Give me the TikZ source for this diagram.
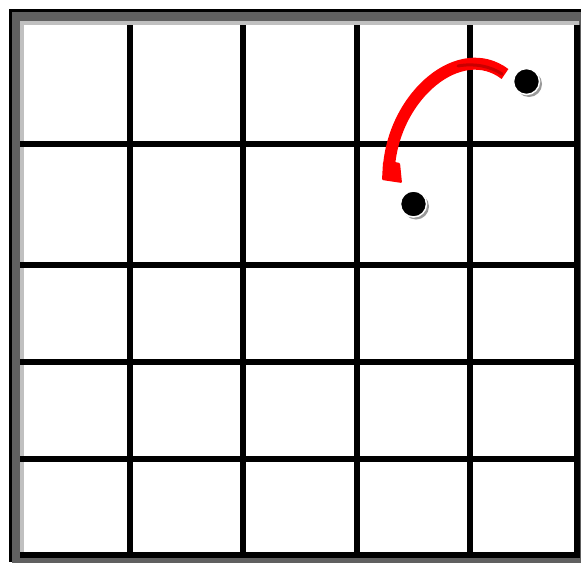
\documentclass[tikz,border=0pt]{standalone}
\usepackage{tikz}
\usetikzlibrary{arrows.meta,calc,positioning}
\definecolor{framegray}{RGB}{96,96,96}
\definecolor{framelight}{RGB}{192,192,192}
\definecolor{jumpred}{RGB}{255,0,0}
\definecolor{jumpdark}{RGB}{200,0,0}

\begin{document}
\begin{tikzpicture}[x=1pt,y=-1pt,
    gridline/.style={line width=6pt,black},
    piece/.style={circle,fill=black,draw=white,line width=1.5pt,minimum size=26pt,inner sep=0pt},
    pieceshadow/.style={circle,fill=gray!80,minimum size=26pt,inner sep=0pt}]
        \useasboundingbox (0,0) rectangle (581,563);
        % Draw the frame
        \fill[framegray] (12,12) rectangle (581,563);
        \fill[black] (9,9) rectangle (581,12);
        \fill[black] (9,9) rectangle (12,562);
        \fill[framelight] (20,21) rectangle (579,25);
        \fill[framelight] (20,21) rectangle (24,553);
        \fill[white] (24,25) rectangle (577,555);
        %grid
        \foreach \gx in {130,243,357,470,577}
          \draw[gridline] (\gx,25) -- (\gx,555);
        \foreach \gy in {144,265,362,459,555}
          \draw[gridline] (20,\gy) -- (580,\gy);
        % Add the pieces
        \node[pieceshadow] at (529,84) {};
        \node[piece] (from) at (526.5,81.5) {};
        \node[pieceshadow] at (416,206.5) {};
        \node[piece] (to) at (413.5,204) {};
        % jump arrow
        \coordinate (jumpstart) at (505,74);
        \coordinate (jumpend) at (389,166);
        \draw[jumpred,line width=12pt]
          (jumpstart) .. controls (460,40) and (395,95) .. (jumpend);
        \draw[jumpdark,line width=3pt,line cap=round] (502,74) .. controls (490,66) and (474,63) .. (458,66);
        % arrow head
        \fill[jumpred,rounded corners=1pt] (383,162) -- (395,162) -- (400,163) -- (402,183) -- (382,180) -- cycle;
\end{tikzpicture}
\end{document}
